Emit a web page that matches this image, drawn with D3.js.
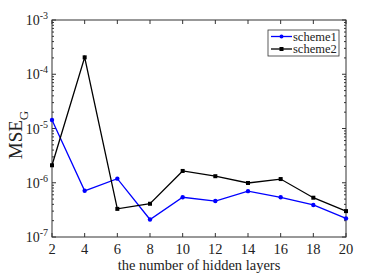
<!DOCTYPE html>
<html>
<head>
<meta charset="utf-8">
<script src="https://cdn.jsdelivr.net/npm/d3@7"></script>
<style>
  body { margin: 0; background: #fff; }
  text { font-family: "Liberation Serif", "DejaVu Serif", serif; fill: #222; }
</style>
</head>
<body>
<div id="chart"></div>
<script>
// hidden layers
var layers = [2, 4, 6, 8, 10, 12, 14, 16, 18, 20];
var scheme1 = [1.43e-5, 7.1e-7, 1.19e-6, 2.1e-7, 5.4e-7, 4.6e-7, 7.0e-7, 5.4e-7, 3.9e-7, 2.2e-7];
var scheme2 = [2.1e-6, 2.05e-4, 3.3e-7, 4.1e-7, 1.65e-6, 1.32e-6, 9.9e-7, 1.17e-6, 5.3e-7, 3.0e-7];
var xTicks = [2, 4, 6, 8, 10, 12, 14, 16, 18, 20];
var yDecades = [-7, -6, -5, -4, -3];

var W = 382, H = 273;
var margin = {top: 20, right: 36, bottom: 36, left: 52},
    width = W - margin.left - margin.right,
    height = H - margin.top - margin.bottom;

var svg = d3.select("#chart").append("svg")
    .attr("width", W).attr("height", H)
  .append("g")
    .attr("transform", "translate(" + margin.left + "," + margin.top + ")");

var x = d3.scaleLinear().domain([2, 20]).range([0, width]);
var y = d3.scaleLog().domain([1e-7, 1e-3]).range([height, 0]);

var series = [
  {name: "scheme1", values: scheme1, color: "#0000ff", marker: "circle"},
  {name: "scheme2", values: scheme2, color: "#000000", marker: "square"}
];

// minor ticks for log axis
var minor = [];
yDecades.slice(0, -1).forEach(function(e) {
  for (var m = 2; m <= 9; m++) minor.push(m * Math.pow(10, e));
});

var axisColor = "#333";
var ticks = svg.append("g").attr("stroke", axisColor).attr("stroke-width", 1);
xTicks.forEach(function(t) {
  ticks.append("line").attr("x1", x(t)).attr("x2", x(t)).attr("y1", height).attr("y2", height - 4);
  ticks.append("line").attr("x1", x(t)).attr("x2", x(t)).attr("y1", 0).attr("y2", 4);
});
yDecades.forEach(function(e) {
  var v = Math.pow(10, e);
  ticks.append("line").attr("x1", 0).attr("x2", 4).attr("y1", y(v)).attr("y2", y(v));
  ticks.append("line").attr("x1", width).attr("x2", width - 4).attr("y1", y(v)).attr("y2", y(v));
});
minor.forEach(function(v) {
  ticks.append("line").attr("x1", 0).attr("x2", 2).attr("y1", y(v)).attr("y2", y(v));
  ticks.append("line").attr("x1", width).attr("x2", width - 2).attr("y1", y(v)).attr("y2", y(v));
});

// box
svg.append("rect").attr("width", width).attr("height", height)
  .attr("fill", "none").attr("stroke", axisColor).attr("stroke-width", 1);

// x tick labels
svg.append("g").selectAll("text").data(xTicks).enter().append("text")
  .attr("x", function(d) { return x(d); })
  .attr("y", height + 17)
  .attr("text-anchor", "middle")
  .style("font-size", "14.5px")
  .text(function(d) { return d; });

// y tick labels 10^e
var yl = svg.append("g").selectAll("text").data(yDecades).enter().append("text")
  .attr("x", -4)
  .attr("y", function(d) { return y(Math.pow(10, d)) + 5; })
  .attr("text-anchor", "end")
  .style("font-size", "14px");
yl.append("tspan").text("10");
yl.append("tspan").attr("dy", -6).style("font-size", "10px").text(function(d) { return d; });

// axis titles
svg.append("text")
  .attr("x", width / 2).attr("y", height + 33)
  .attr("text-anchor", "middle")
  .style("font-size", "14.5px")
  .text("the number of hidden layers");

var yt = svg.append("text")
  .attr("transform", "translate(-30,115) rotate(-90)")
  .attr("text-anchor", "middle")
  .style("font-size", "19px");
yt.append("tspan").text("MSE");
yt.append("tspan").attr("dy", 6).style("font-size", "13px").text("G");

var line = d3.line()
  .x(function(d, i) { return x(layers[i]); })
  .y(function(d) { return y(d); });

series.forEach(function(s) {
  svg.append("path").datum(s.values)
    .attr("fill", "none").attr("stroke", s.color).attr("stroke-width", 1.3)
    .attr("d", line);
  var g = svg.append("g").attr("fill", s.color);
  s.values.forEach(function(v, i) {
    if (s.marker === "circle") {
      g.append("circle").attr("cx", x(layers[i])).attr("cy", y(v)).attr("r", 2.2);
    } else {
      g.append("rect").attr("x", x(layers[i]) - 2).attr("y", y(v) - 2)
        .attr("width", 4).attr("height", 4);
    }
  });
});

// legend
var lg = svg.append("g").attr("transform", "translate(" + (width - 78) + ",10)");
lg.append("rect").attr("width", 71).attr("height", 26)
  .attr("fill", "#fff").attr("stroke", axisColor).attr("stroke-width", 0.8);
series.forEach(function(s, i) {
  var yy = 6.5 + i * 12.5;
  lg.append("line").attr("x1", 3).attr("x2", 24).attr("y1", yy).attr("y2", yy)
    .attr("stroke", s.color).attr("stroke-width", 1.3);
  if (s.marker === "circle") {
    lg.append("circle").attr("cx", 13.5).attr("cy", yy).attr("r", 2).attr("fill", s.color);
  } else {
    lg.append("rect").attr("x", 11.5).attr("y", yy - 2).attr("width", 4).attr("height", 4).attr("fill", s.color);
  }
  lg.append("text").attr("x", 25).attr("y", yy + 4)
    .style("font-size", "12.5px").text(s.name);
});
</script>
</body>
</html>
